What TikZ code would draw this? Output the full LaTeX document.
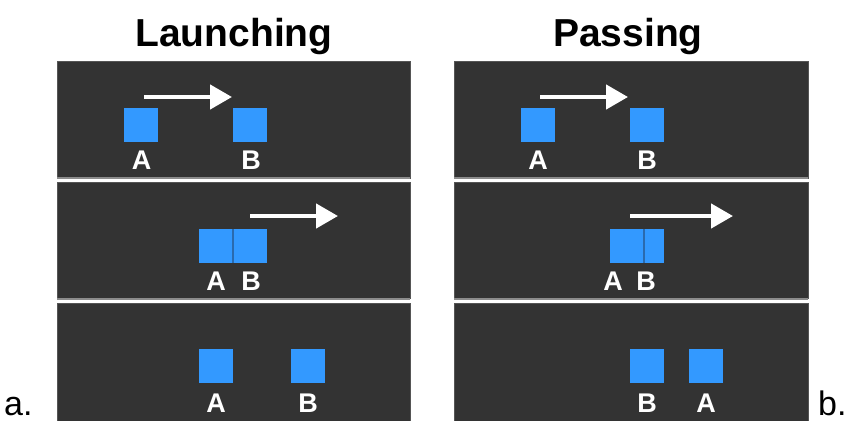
\documentclass[tikz,border=0pt]{standalone}
\usepackage{fontspec}
\setmainfont{Liberation Sans}
\usetikzlibrary{arrows.meta}
\definecolor{panelbg}{HTML}{333333}
\definecolor{panelrim}{HTML}{555555}
\definecolor{sepgray}{HTML}{8C8C8C}
\definecolor{sqblue}{HTML}{3399FF}
\definecolor{sqedge}{HTML}{2A6AAE}
\tikzset{
  panel/.style={fill=panelbg, draw=panelrim, line width=1pt},
  sepline/.style={draw=sepgray, line width=2pt},
  sq/.style={fill=sqblue, minimum width=34pt, minimum height=34pt, inner sep=0pt, anchor=north west},
  lbl/.style={text=white, font=\fontsize{27}{27}\selectfont\bfseries, anchor=base, inner sep=0pt},
  ttl/.style={text=black, font=\fontsize{39}{39}\selectfont\bfseries, anchor=base, inner sep=0pt},
  tag/.style={text=black, font=\fontsize{34}{34}\selectfont, anchor=base, inner sep=0pt},
  mv/.style={draw=white, line width=4.5pt, -{Triangle[length=22pt, width=24pt]}},
  divl/.style={draw=sqedge, line width=1.5pt}
}
\begin{document}
\begin{tikzpicture}[x=1pt, y=-1pt]
\useasboundingbox (0,0) rectangle (850,420);
\fill[white] (0,0) rectangle (850,420);
% titles
\node[ttl] (tL) at (234,46) {Launching};
\node[ttl] (tP) at (628,46) {Passing};
% panels
\foreach \xa/\xb in {57/410, 454/808}{
  \draw[panel] (\xa,61) rectangle (\xb,178);
  \draw[panel] (\xa,182) rectangle (\xb,298);
  \draw[panel] (\xa,303) rectangle (\xb,421);
  \draw[sepline] (\xa,178) -- (\xb,178);
  \draw[sepline] (\xa,298.5) -- (\xb,298.5);
}
% ---- Launching ----
\node[sq] (LA1) at (124,108) {};
\node[sq] (LB1) at (233,108) {};
\node[lbl] (LA1l) at (141.5,169) {A};
\node[lbl] (LB1l) at (251,169) {B};
\coordinate (La1s) at (144,97);
\coordinate (La1e) at (232,97);
\draw[mv] (La1s) -- (La1e);

\node[sq] (LA2) at (199,229) {};
\node[sq] (LB2) at (233,229) {};
\draw[divl] (LB2.north west) -- (LB2.south west);
\node[lbl] (LA2l) at (216,290) {A};
\node[lbl] (LB2l) at (251,290) {B};
\coordinate (La2s) at (250,216);
\coordinate (La2e) at (338,216);
\draw[mv] (La2s) -- (La2e);

\node[sq] (LA3) at (199,349) {};
\node[sq] (LB3) at (291,349) {};
\node[lbl] (LA3l) at (216,412) {A};
\node[lbl] (LB3l) at (308,412) {B};

% ---- Passing ----
\node[sq] (PA1) at (521,108) {};
\node[sq] (PB1) at (630,108) {};
\node[lbl] (PA1l) at (538,169) {A};
\node[lbl] (PB1l) at (647,169) {B};
\coordinate (Pa1s) at (540,97);
\coordinate (Pa1e) at (628,97);
\draw[mv] (Pa1s) -- (Pa1e);

\node[sq] (PA2) at (610,229) {};
\node[sq, minimum width=20pt] (PB2) at (644,229) {};
\draw[divl] (PB2.north west) -- (PB2.south west);
\node[lbl] (PA2l) at (613,290) {A};
\node[lbl] (PB2l) at (646,290) {B};
\coordinate (Pa2s) at (630,216);
\coordinate (Pa2e) at (733,216);
\draw[mv] (Pa2s) -- (Pa2e);

\node[sq] (PB3) at (630,349) {};
\node[sq] (PA3) at (689,349) {};
\node[lbl] (PB3l) at (647,412) {B};
\node[lbl] (PA3l) at (706,412) {A};

% side tags
\node[tag, anchor=base west] (ta) at (4,415) {a.};
\node[tag, anchor=base west] (tb) at (818,415) {b.};
\end{tikzpicture}
\end{document}
